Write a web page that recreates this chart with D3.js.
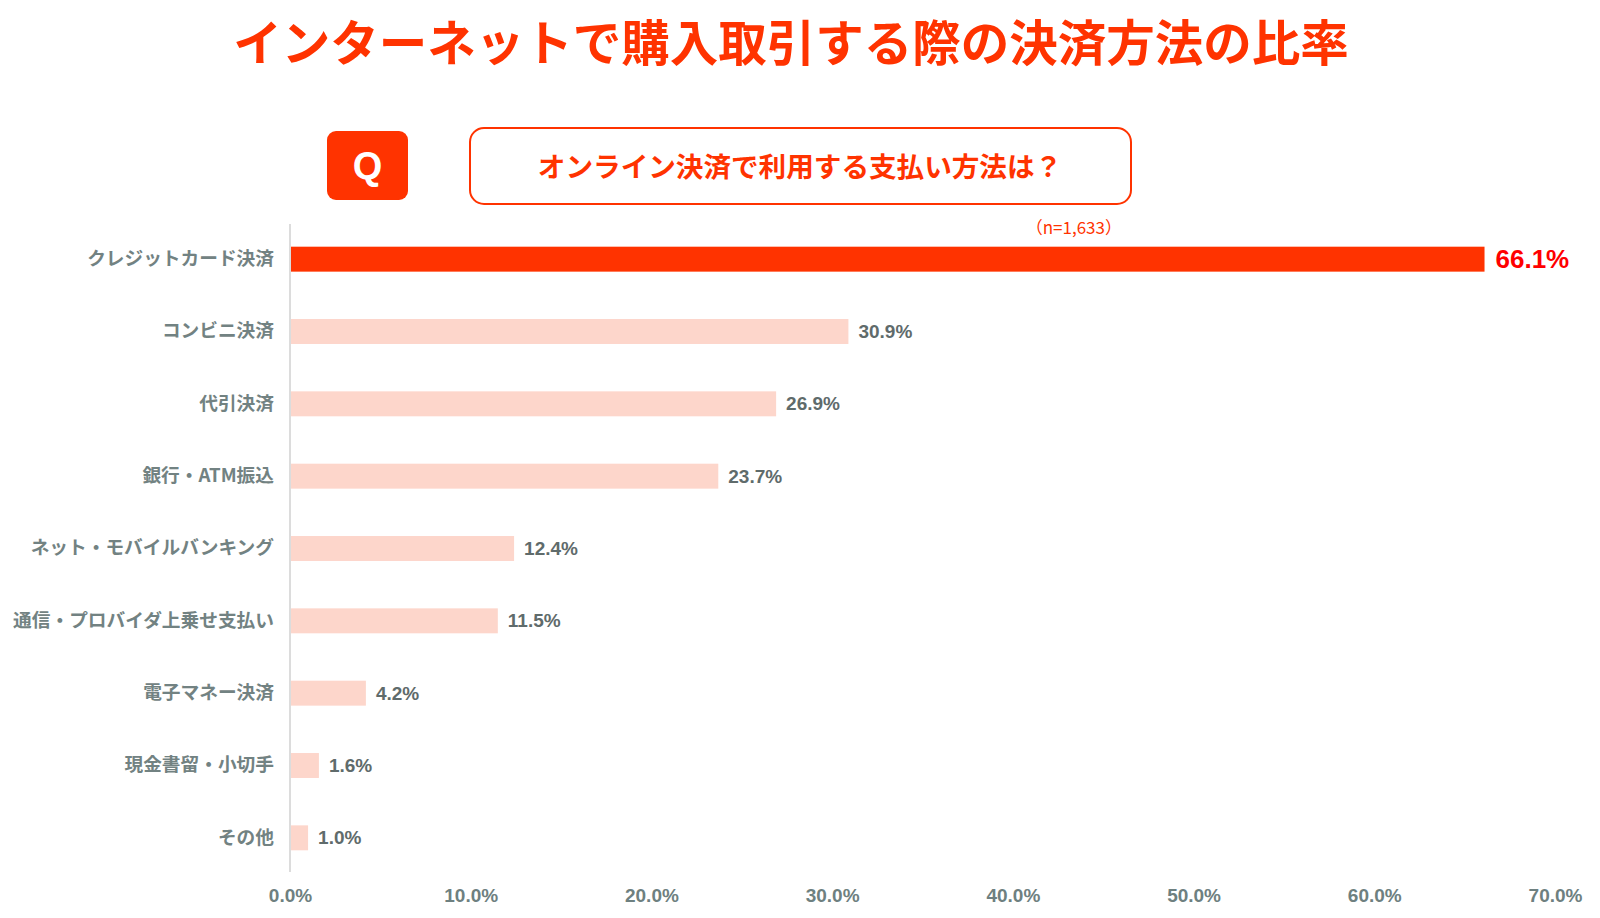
<!DOCTYPE html>
<html><head><meta charset="utf-8">
<script src="https://cdn.jsdelivr.net/npm/d3@7"></script>
<style>html,body{margin:0;padding:0;background:#fff;}svg{display:block;}</style>
</head><body>
<svg id="c" width="1600" height="918"></svg>
<script>
const categories = ["クレジットカード決済","コンビニ決済","代引決済","銀行・ATM振込","ネット・モバイルバンキング","通信・プロバイダ上乗せ支払い","電子マネー決済","現金書留・小切手","その他"];
const values = [66.1,30.9,26.9,23.7,12.4,11.5,4.2,1.6,1.0];
const tickValues = [0,10,20,30,40,50,60,70];
const title = "インターネットで購入取引する際の決済方法の比率";
const question = "オンライン決済で利用する支払い方法は？";
const sampleNote = "（n=1,633）";

const svg = d3.select("#c");
const JP = "'Noto Sans CJK JP','Noto Sans',sans-serif";
const NUM = "'Liberation Sans',Arial,sans-serif";
const RED = "#ff3300";

svg.append("text").attr("x",791).attr("y",40).attr("text-anchor","middle").attr("dominant-baseline","central")
  .style("font-family",JP).style("font-weight","bold").style("font-size","48.5px").style("fill",RED).text(title);

svg.append("rect").attr("x",327).attr("y",131).attr("width",81).attr("height",69).attr("rx",9).attr("fill",RED);
svg.append("text").attr("x",367.5).attr("y",166).attr("text-anchor","middle").attr("dominant-baseline","central")
  .style("font-family",NUM).style("font-weight","bold").style("font-size","38px").style("fill","#fff").text("Q");

svg.append("rect").attr("x",470).attr("y",128).attr("width",661).attr("height",76).attr("rx",14)
  .attr("fill","#fff").attr("stroke",RED).attr("stroke-width",2);
svg.append("text").attr("x",800).attr("y",165).attr("text-anchor","middle").attr("dominant-baseline","central")
  .style("font-family",JP).style("font-weight","bold").style("font-size","27.6px").style("fill",RED).text(question);

svg.append("text").attr("x",1122).attr("y",226).attr("text-anchor","end").attr("dominant-baseline","central")
  .style("font-family",JP).style("font-size","17px").style("fill",RED).text(sampleNote);

const x = d3.scaleLinear().domain([0,70]).range([290,1555]);
const y = d3.scaleBand().domain(categories).range([223,874]).paddingInner(0.655).paddingOuter(0.3275);

// x axis tick labels
const xAxis = d3.axisBottom(x).tickValues(tickValues).tickFormat(d=>d.toFixed(1)+"%").tickSize(0).tickPadding(0);
const gx = svg.append("g").attr("transform","translate(0,888)").call(xAxis);
gx.select(".domain").remove();
gx.selectAll("text").style("font-family",NUM).style("font-weight","bold").style("font-size","19px").style("fill","#6e8080");

// bars
svg.append("g").selectAll("rect").data(values).join("rect")
  .attr("x",x(0)).attr("y",(d,i)=>y(categories[i])).attr("width",d=>x(d)-x(0)).attr("height",y.bandwidth())
  .attr("fill",(d,i)=>i===0?RED:"#fdd6cb");

// y axis
const yAxis = d3.axisLeft(y).tickSize(0).tickPadding(16);
const gy = svg.append("g").attr("transform",`translate(${x(0)},0)`).call(yAxis);
gy.select(".domain").attr("stroke","#dcdcdc").attr("stroke-width",2).attr("d",`M0,224V872`);
gy.selectAll("text").style("font-family",JP).style("font-weight","bold").style("font-size","18.7px").style("fill","#728282");

// value labels
svg.append("g").selectAll("text").data(values).join("text")
  .attr("x",d=>x(d)+(d===values[0]?11:10)).attr("y",(d,i)=>y(categories[i])+y.bandwidth()/2)
  .attr("dominant-baseline","central")
  .style("font-family",NUM).style("font-weight","bold")
  .style("font-size",(d,i)=>i===0?"26px":"19px")
  .style("fill",(d,i)=>i===0?"#ff0000":"#5f6b6b")
  .text(d=>d.toFixed(1)+"%");
</script>
</body></html>
